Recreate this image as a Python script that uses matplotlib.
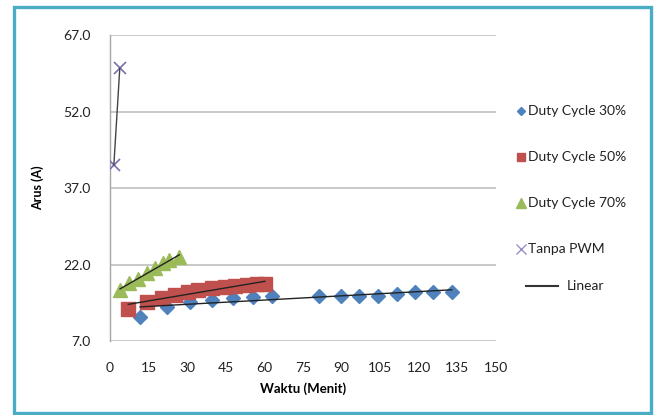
import matplotlib.pyplot as plt
import numpy as np
from matplotlib.lines import Line2D
from matplotlib.patches import Rectangle

# arus vs waktu for each PWM setting
dc30_t = [11.7, 22.0, 31.1, 39.5, 47.7, 55.7, 62.8, 81.3, 89.8, 96.9, 104.0, 111.6, 118.5, 125.6, 132.8]
dc30_i = [11.8, 13.7, 14.7, 15.0, 15.5, 15.7, 15.8, 15.8, 15.8, 15.8, 15.8, 16.3, 16.7, 16.7, 16.7]

dc50_t = [7.1, 14.3, 20.1, 25.3, 30.4, 34.3, 39.5, 44.7, 48.6, 53.1, 57.0, 60.2]
dc50_i = [13.3, 14.7, 15.4, 16.0, 16.7, 17.0, 17.3, 17.6, 17.8, 18.0, 18.1, 18.1]

dc70_t = [3.9, 7.5, 11.0, 14.5, 17.6, 20.5, 23.0, 26.9]
dc70_i = [17.0, 18.4, 19.2, 20.3, 21.3, 22.3, 22.9, 23.5]

nopwm_t = [1.5, 3.8]
nopwm_i = [41.5, 60.5]

x_ticks = [0, 15, 30, 45, 60, 75, 90, 105, 120, 135, 150]
y_ticks = [7.0, 22.0, 37.0, 52.0, 67.0]

plt.rcParams['font.family'] = ['Lato', 'DejaVu Sans']

W, H = 657, 415
fig = plt.figure(figsize=(W / 100, H / 100), dpi=100)

# outer frame
fig.patches.append(Rectangle((14 / W, 1 - 413 / H), (651 - 14) / W, (413 - 7.5) / H,
                             transform=fig.transFigure, fill=False,
                             edgecolor='#4BACC6', linewidth=2.4))

ax = fig.add_axes([110 / W, 1 - 341 / H, (496 - 110) / W, (341 - 35) / H])
ax.set_xlim(0, 150)
ax.set_ylim(7, 67)
ax.set_xticks(x_ticks)
ax.set_yticks(y_ticks)
ax.set_yticklabels([f'{v:.1f}' for v in y_ticks])
ax.tick_params(length=0, labelsize=10, colors='#222222', pad=14)
ax.tick_params(axis='x', pad=15)
ax.grid(axis='y', color='#BFBFBF', linewidth=1.2)
ax.set_axisbelow(True)
for s in ['top', 'right', 'bottom']:
    ax.spines[s].set_visible(False)
ax.spines['left'].set_color('#A6A6A6')
ax.spines['left'].set_linewidth(1.0)

ax.set_xlabel('Waktu (Menit)', fontsize=9.5, fontweight='bold', labelpad=6)
ax.set_ylabel('Arus (A)', fontsize=9, fontweight='bold', labelpad=14)

series = [
    (dc30_t, dc30_i, 'D', '#4F81BD', 7.5),
    (dc50_t, dc50_i, 's', '#C0504D', 10),
    (dc70_t, dc70_i, '^', '#9BBB59', 9.5),
]
for t, i, m, c, ms in series:
    ax.plot(t, i, m, color=c, markersize=ms, linestyle='none', zorder=3)
    k, b = np.polyfit(t, i, 1)
    xs = np.array([min(t), max(t)])
    ax.plot(xs, k * xs + b, color='#222222', linewidth=1.0, zorder=4)

ax.plot(nopwm_t, nopwm_i, 'x', color='#7B6FB0', markersize=9, markeredgewidth=1.2, zorder=3)
ax.plot(nopwm_t, nopwm_i, color='#444444', linewidth=1.0, zorder=4)

# legend on the right
leg = [
    ('D', '#4F81BD', 4.5, 'Duty Cycle 30%', 111),
    ('s', '#C0504D', 6, 'Duty Cycle 50%', 157),
    ('^', '#9BBB59', 6.5, 'Duty Cycle 70%', 203),
    ('x', '#9A90C8', 6.5, 'Tanpa PWM', 249),
]
for m, c, ms, lab, py in leg:
    fig.add_artist(Line2D([521 / W], [1 - py / H], marker=m, color=c, markersize=ms,
                          markeredgewidth=1.0, linestyle='none', transform=fig.transFigure))
    fig.text(528 / W, 1 - py / H, lab, fontsize=10, va='center', ha='left', color='#222222')
fig.add_artist(Line2D([526 / W, 558 / W], [1 - 286 / H, 1 - 286 / H], color='#333333',
                      linewidth=1.5, transform=fig.transFigure))
fig.text(567 / W, 1 - 286 / H, 'Linear', fontsize=10, va='center', ha='left', color='#222222')

fig.savefig('out.png', dpi=100)
